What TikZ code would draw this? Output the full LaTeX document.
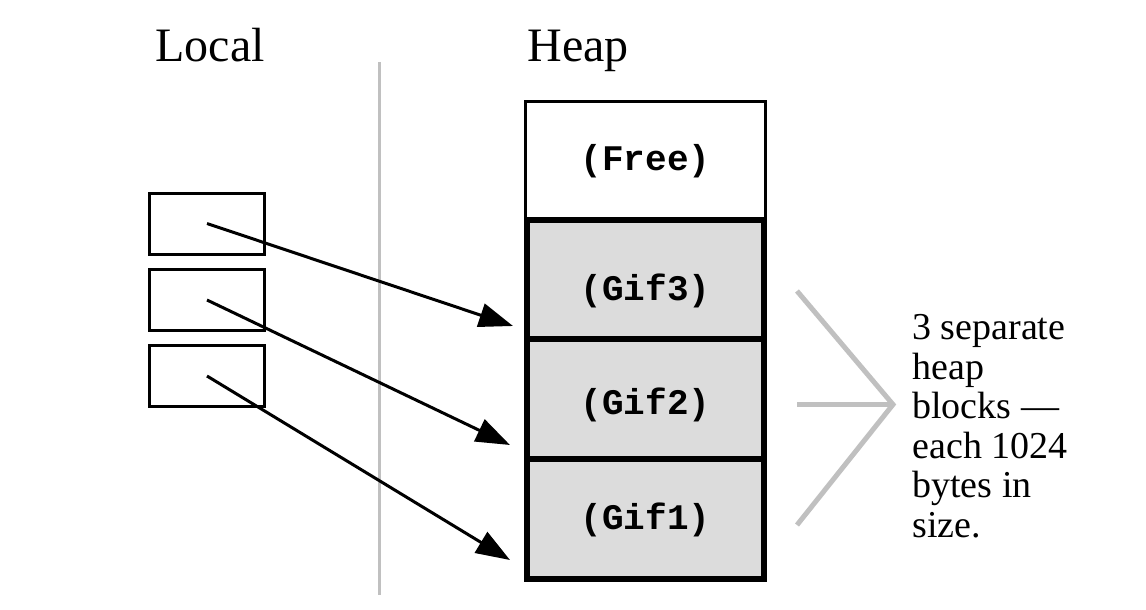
\documentclass[tikz,border=0pt]{standalone}
\usepackage{fontspec}
\setmainfont{Liberation Serif}
\setmonofont{Liberation Mono}
\usetikzlibrary{arrows.meta,calc}
\definecolor{blockgray}{RGB}{220,220,220}
\definecolor{linegray}{RGB}{192,192,192}
\tikzset{
    title/.style={anchor=base west,inner sep=0pt,font=\fontsize{24}{28}\selectfont},
    slot/.style={draw,line width=1.5pt,minimum width=57.5pt,minimum height=30.5pt,inner sep=0pt,outer sep=0pt},
    freeblock/.style={draw,line width=1.5pt,minimum width=120pt,minimum height=59pt,inner sep=0pt,outer sep=0pt,
      text height=13pt,text depth=3.5pt,font=\fontsize{18}{20}\selectfont\ttfamily\bfseries},
    gifblock/.style={freeblock,line width=3pt,fill=blockgray,minimum width=118.5pt,minimum height=60pt},
    ptr/.style={line width=1.5pt,-{Triangle[length=17pt,width=12pt]}},
  }
\begin{document}
\begin{tikzpicture}[x=0.5pt,y=-0.5pt]
				  \useasboundingbox (0,0) rectangle (1146,610);

				  %TITRES
				  \node[title] (local) at (155,62) {Local};
				  \node[title] (heap) at (527,62) {Heap};
				  \draw[linegray,line width=1.5pt] (379,62) -- (379,595);

				  %TAS
				  \node[freeblock] (free) at (645.5,161) {(Free)};
				  \node[gifblock,text height=24pt] (gif3) at (645.5,279.5) {(Gif3)};
				  \node[gifblock,text height=19pt] (gif2) at (645.5,399) {(Gif2)};
				  \node[gifblock,text height=14pt] (gif1) at (645.5,519) {(Gif1)};

				  %VARIABLES LOCALES
				  \node[slot] (p3) at (207,223.5) {};
				  \node[slot] (p2) at (207,300) {};
				  \node[slot] (p1) at (207,376) {};

				  %POINTEURS
				  \coordinate (t3) at ($(gif3.west)+(-14,46.5)$);
				  \coordinate (t2) at ($(gif2.west)+(-17,46)$);
				  \coordinate (t1) at ($(gif1.west)+(-17,41)$);
				  \draw[ptr] (p3.center) -- (t3);
				  \draw[ptr] (p2.center) -- (t2);
				  \draw[ptr] (p1.center) -- (t1);

				  %ACCOLADE
				  \coordinate (b) at (893,404.5);
				  \draw[linegray,line width=2.5pt] (797,291) -- (b) -- (797,525);
				  \draw[linegray,line width=2.5pt] (797,404.5) -- (b);
				  \node[anchor=north west,inner sep=0pt,align=left,font=\fontsize{19}{19.75}\selectfont] (note) at (912,314)
				    {3 separate\\heap\\blocks —\\each 1024\\bytes in\\size.};
\end{tikzpicture}
\end{document}
